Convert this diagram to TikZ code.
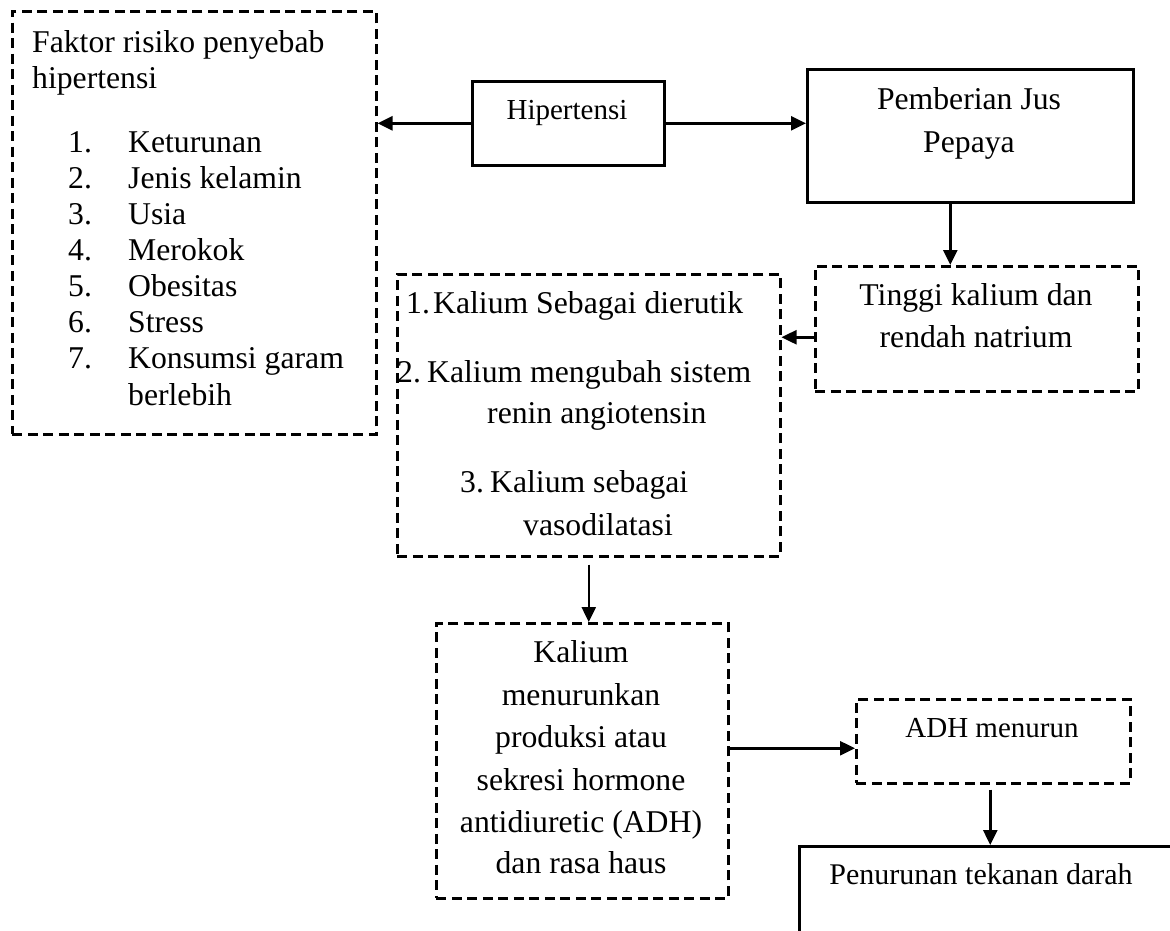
\documentclass[tikz,border=0pt]{standalone}
\usepackage{fontspec}
\setmainfont{Liberation Serif}
\usetikzlibrary{arrows.meta}
\begin{document}
\begin{tikzpicture}[x=1bp,y=-1bp,
  solidbox/.style={draw, line width=2.6bp, inner sep=0pt, anchor=north west},
  dashbox/.style={draw, line width=2.5bp, dash pattern=on 10bp off 5.5bp, inner sep=0pt, anchor=north west},
  txt/.style={inner sep=0pt, anchor=base, font=\fontsize{31.7bp}{38bp}\selectfont},
  txtl/.style={txt, anchor=base west},
  smalltxt/.style={txt, font=\fontsize{29bp}{35bp}\selectfont},
  midtxt/.style={txt, font=\fontsize{30bp}{36bp}\selectfont},
  arr/.style={line width=2.5bp, -{Triangle[length=15bp,width=14bp]}}
]
\clip (0,0) rectangle (1170,931);
\fill[white] (0,0) rectangle (1170,931);

% boxes
\node[dashbox, minimum width=364bp, minimum height=423bp] (faktor) at (11,10) {};
\node[solidbox, minimum width=192bp, minimum height=84bp] (hip) at (471,80) {};
\node[solidbox, minimum width=326bp, minimum height=133bp] (pem) at (806,68) {};
\node[dashbox, minimum width=323bp, minimum height=125bp] (tinggi) at (814,265) {};
\node[dashbox, minimum width=383bp, minimum height=282bp] (kal) at (396,273) {};
\node[dashbox, minimum width=292bp, minimum height=275bp] (men) at (435,622) {};
\node[dashbox, minimum width=274bp, minimum height=84bp] (adh) at (855,698) {};
\node[solidbox, minimum width=400bp, minimum height=200bp] (pen) at (798,845) {};

% Faktor texts
\node[txtl] (f0) at (32,52) {Faktor risiko penyebab};
\node[txtl] (f1) at (32,88) {hipertensi};
\foreach \t [count=\i] in {Keturunan, Jenis kelamin, Usia, Merokok, Obesitas, Stress, Konsumsi garam} {
  \node[txtl] (n\i) at (68,{152+36.1*(\i-1)}) {\i.};
  \node[txtl] (i\i) at (128,{152+36.1*(\i-1)}) {\t};
}
\node[txtl] (i8) at (128,405) {berlebih};

% Hipertensi
\node[smalltxt] (thip) at (567,119) {Hipertensi};

% Pemberian
\node[txt] (tpem1) at (969,109) {Pemberian Jus};
\node[txt] (tpem2) at (969,152) {Pepaya};

% Tinggi
\node[txt] (tt1) at (976,305) {Tinggi kalium dan};
\node[txt] (tt2) at (976,347) {rendah natrium};

% Kalium list
\node[txtl] (k1n) at (406,313) {1.};
\node[txtl] (k1) at (433,313) {Kalium Sebagai dierutik};
\node[txtl] (k2n) at (397,382) {2.};
\node[txtl] (k2) at (427,382) {Kalium mengubah sistem};
\node[txtl] (k2b) at (487,423) {renin angiotensin};
\node[txtl] (k3n) at (460,492) {3.};
\node[txtl] (k3) at (490,492) {Kalium sebagai};
\node[txtl] (k3b) at (523,535) {vasodilatasi};

% Kalium menurunkan
\node[txt] (m1) at (581,662) {Kalium};
\node[txt] (m2) at (581,705) {menurunkan};
\node[txt] (m3) at (581,747) {produksi atau};
\node[txt] (m4) at (581,790) {sekresi hormone};
\node[txt] (m5) at (581,832) {antidiuretic (ADH)};
\node[txt] (m6) at (581,873) {dan rasa haus};

% ADH
\node[smalltxt] (tadh) at (992,737) {ADH menurun};

% Penurunan
\node[midtxt] (tpen) at (981,884) {Penurunan tekanan darah};

% connectors
\draw[arr] (hip.west) -- (hip.west -| faktor.east);
\draw[arr] (hip.east) -- (hip.east -| pem.west);
\draw[arr] ([xshift=-20bp]pem.south) -- ([xshift=-20bp]pem.south |- tinggi.north);
\draw[arr] ([yshift=-8.5bp]tinggi.west) -- ([yshift=-8.5bp]tinggi.west -| kal.east);
\draw[arr] ([yshift=-7bp]kal.south) -- (kal.south |- men.north);
\draw[arr] ([yshift=12.5bp]men.east) -- ([yshift=12.5bp]men.east -| adh.west);
\draw[arr] ([xshift=-3bp,yshift=-5bp]adh.south) -- ([xshift=-3bp]adh.south |- pen.north);
\end{tikzpicture}
\end{document}
